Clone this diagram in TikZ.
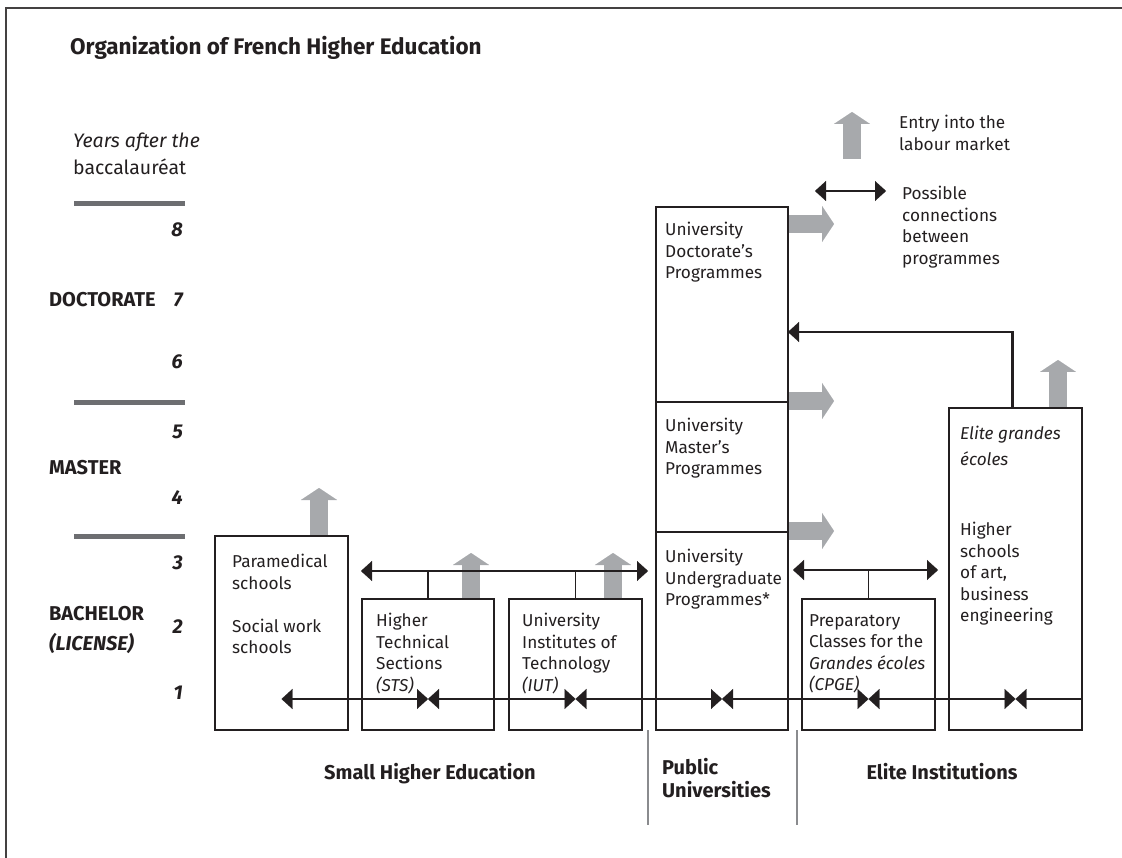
\documentclass[tikz,border=0pt]{standalone}
\usepackage{fontspec}
\setmainfont{Fira Sans}
\usepackage{tikz}
\usetikzlibrary{arrows.meta, positioning}
\usepackage{xcolor}

\definecolor{ink}{HTML}{231F20}
\definecolor{exitgray}{HTML}{A7A9AC}
\definecolor{bargray}{HTML}{6D6E71}
\definecolor{sepgray}{HTML}{8A8B8E}

\newcommand{\boxfont}{\fontsize{17.2}{21.5}\selectfont}
\newcommand{\levelfont}{\fontsize{20}{23}\selectfont\bfseries}

\begin{document}
\begin{tikzpicture}[x=1pt, y=-1pt,
    >={Triangle[length=11pt, width=20pt, line width=0.1pt]},
    box/.style={rectangle, draw=ink, line width=2.5pt, inner sep=0pt, outer sep=0pt},
    lbl/.style={anchor=north west, align=left, inner sep=0pt, text=ink, font=\boxfont},
    level/.style={anchor=west, inner sep=0pt, text=ink, font=\levelfont},
    year/.style={anchor=east, inner sep=0pt, text=ink, font=\levelfont\itshape},
    group/.style={anchor=base, inner sep=0pt, text=ink, font=\levelfont},
    link/.style={draw=ink, line width=2.5pt},
    tick/.style={draw=ink, line width=1.3pt},
    bar/.style={draw=bargray, line width=5pt},
    sep/.style={draw=sepgray, line width=2pt},
    exit/.style={draw=exitgray, line width=18pt, shorten <=1.2pt,
        -{Triangle[length=12pt, width=36pt, line width=0.1pt]}}]
    \useasboundingbox (0,0) rectangle (1122,858);
    \draw [draw=ink!85, line width=2pt] (6,858) -- (6,8) -- (1122,8);

    \node (title) [anchor=base west, inner sep=0pt, text=ink,
        font=\fontsize{22.5}{26}\selectfont\bfseries] at (70,55) {Organization of French Higher Education};

    % years after the bac
    \node (years) [lbl, font=\fontsize{19.5}{27}\selectfont] at (73,133) {\textit{Years after the}\\baccalauréat};
    \draw [bar] (74,204) -- (185,204);
    \draw [bar] (74,403) -- (185,403);
    \draw [bar] (74,536) -- (185,536);
    \node (y8) [year] at (183,230) {8};
    \node (y7) [year] at (183,300) {7};
    \node (y6) [year] at (183,362) {6};
    \node (y5) [year] at (183,432) {5};
    \node (y4) [year] at (183,498) {4};
    \node (y3) [year] at (183,563) {3};
    \node (y2) [year] at (183,627) {2};
    \node (y1) [year] at (183,693) {1};
    \node (doclvl) [level] at (49,300) {DOCTORATE};
    \node (mastlvl) [level] at (49,468) {MASTER};
    \node (bachlvl) [level, align=left] at (49,630) {BACHELOR\\[7pt]\textit{(LICENSE)}};

    % institutions
    \node (para) [box, minimum width=133pt, minimum height=194pt, anchor=south west] at (215,730) {};
    \node (sts) [box, minimum width=132pt, minimum height=131pt, right=14pt of para.south east, anchor=south west] {};
    \node (iut) [box, minimum width=133pt, minimum height=131pt, right=15pt of sts.south east, anchor=south west] {};
    \node (ug) [box, minimum width=132pt, minimum height=198pt, right=14pt of iut.south east, anchor=south west] {};
    \node (master) [box, minimum width=132pt, minimum height=130pt, above=0pt of ug] {};
    \node (doc) [box, minimum width=132pt, minimum height=195pt, above=0pt of master] {};
    \node (cpge) [box, minimum width=133pt, minimum height=131pt, right=14pt of ug.south east, anchor=south west] {};
    \node (elite) [box, minimum width=133pt, minimum height=322pt, right=14pt of cpge.south east, anchor=south west] {};

    \node (paralbl) [lbl] at ([xshift=17pt, yshift=-18pt]para.north west) {Paramedical\\schools\\[21.5pt]Social work\\schools};
    \node (stslbl) [lbl] at ([xshift=14pt, yshift=-14pt]sts.north west) {Higher\\Technical\\Sections\\\textit{(STS)}};
    \node (iutlbl) [lbl] at ([xshift=13pt, yshift=-14pt]iut.north west) {University\\Institutes of\\Technology\\\textit{(IUT)}};
    \node (doclbl) [lbl] at ([xshift=9pt, yshift=-15pt]doc.north west) {University\\Doctorate’s\\Programmes};
    \node (masterlbl) [lbl] at ([xshift=9pt, yshift=-16pt]master.north west) {University\\Master’s\\Programmes};
    \node (uglbl) [lbl] at ([xshift=9pt, yshift=-17pt]ug.north west) {University\\Undergraduate\\Programmes*};
    \node (cpgelbl) [lbl] at ([xshift=7pt, yshift=-15pt]cpge.north west) {Preparatory\\Classes for the\\\textit{Grandes écoles}\\\textit{(CPGE)}};
    \node (elitelbl) [lbl] at ([xshift=11pt, yshift=-18pt]elite.north west) {\textit{Elite grandes}\\[4.5pt]\textit{écoles}\\[48.5pt]Higher\\schools\\of art,\\business\\engineering};

    % entry into the labour market
    \draw [exit] ([xshift=37.5pt]para.north) -- ++(0,-48);
    \draw [exit] ([xshift=43pt]sts.north) -- ++(0,-46);
    \draw [exit] ([xshift=37.5pt]iut.north) -- ++(0,-46);
    \draw [exit] ([xshift=42.5pt]elite.north) -- ++(0,-48);
    \draw [exit] ([yshift=-17pt]doc.north east) -- ++(46,0);
    \draw [exit] ([yshift=1pt]master.north east) -- ++(46,0);
    \draw [exit] ([yshift=1pt]ug.north east) -- ++(46,0);

    % connections
    \coordinate (shel) at (361,571);
    \coordinate (sher) at (648,571);
    \draw [link, <->] (shel) -- (sher);
    \draw [tick] (sts.north) -- (sts.north |- shel);
    \draw [tick] (iut.north) -- (iut.north |- shel);
    \coordinate (elil) at (793,570);
    \coordinate (elir) at (938,570);
    \draw [link, <->] (elil) -- (elir);
    \draw [tick] (cpge.north) -- (cpge.north |- elil);

    \draw [link, <->] ([yshift=31pt]para.south) -- ([yshift=31pt]sts.south);
    \draw [link, <->] ([yshift=31pt]sts.south) -- ([yshift=31pt]iut.south);
    \draw [link, <->] ([yshift=31pt]iut.south) -- ([yshift=31pt]ug.south);
    \draw [link, <->] ([yshift=31pt]ug.south) -- ([yshift=31pt]cpge.south);
    \draw [link, <->] ([yshift=31pt]cpge.south) -- ([yshift=31pt]elite.south);
    \draw [link, <-] ([yshift=31pt]elite.south) -- ([yshift=31pt]elite.south east);

    \draw [link, ->] ([xshift=-3pt]elite.north) |- ([yshift=-27.5pt]doc.east);

    % key
    \coordinate (exitkey) at (852,159);
    \draw [exit, shorten <=0pt] (exitkey) -- ++(0,-47);
    \node (exitlbl) [lbl] at (899,115) {Entry into the\\labour market};
    \coordinate (linkkeyl) at (815,191);
    \coordinate (linkkeyr) at (886,191);
    \draw [link, <->] (linkkeyl) -- (linkkeyr);
    \node (linklbl) [lbl] at (902,186) {Possible\\connections\\between\\programmes};

    % groups
    \draw [sep] ([xshift=-8pt]ug.south west) -- ++(0,95);
    \draw [sep] ([xshift=9pt]ug.south east) -- ++(0,95);
    \node (smalled) [group] at (430,779.5) {Small Higher Education};
    \node (publicu) [group, anchor=north west, align=left] at (662,758) {Public\\Universities};
    \node (eliteinst) [group] at (942,779.5) {Elite Institutions};
\end{tikzpicture}
\end{document}
